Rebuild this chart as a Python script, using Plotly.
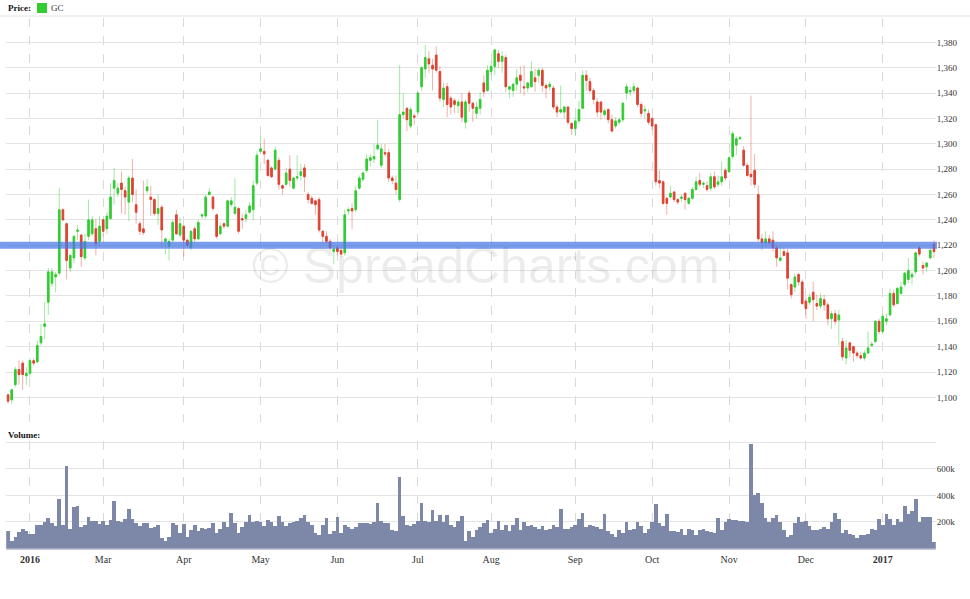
import pandas as pd
import plotly.graph_objects as go

# ---------------- data ----------------
holidays = ["2016-02-15", "2016-03-25", "2016-05-30", "2016-07-04", "2016-09-05",
            "2016-11-24", "2016-12-26", "2017-01-02", "2017-01-16"]
dates = [d.strftime("%Y-%m-%d") for d in
         pd.bdate_range("2016-01-22", "2017-01-24", freq="C", holidays=holidays)]

opens = [1102, 1098, 1110, 1122, 1127, 1117, 1119, 1129, 1128, 1143, 1156, 1175, 1190, 1195, 1198, 1248, 1237, 1202, 1210, 1231,
         1228, 1210, 1227, 1229, 1233, 1223, 1240, 1233, 1241, 1265, 1261, 1269, 1263, 1254, 1273, 1252, 1237, 1233, 1263, 1258,
         1256, 1245, 1250, 1223, 1219, 1224, 1244, 1228, 1235, 1224, 1218, 1233, 1225, 1243, 1243, 1260, 1258, 1244, 1229, 1237,
         1235, 1252, 1245, 1249, 1241, 1241, 1246, 1248, 1269, 1294, 1294, 1287, 1281, 1280, 1287, 1267, 1268, 1280, 1265, 1273,
         1275, 1281, 1260, 1257, 1255, 1256, 1231, 1227, 1223, 1215, 1218, 1216, 1214, 1247, 1249, 1248, 1265, 1272, 1279, 1287,
         1288, 1296, 1283, 1293, 1293, 1273, 1269, 1256, 1323, 1328, 1314, 1322, 1325, 1345, 1359, 1367, 1362, 1370, 1357, 1335,
         1345, 1336, 1334, 1330, 1333, 1317, 1340, 1332, 1324, 1328, 1348, 1342, 1357, 1361, 1371, 1365, 1368, 1343, 1342, 1347,
         1354, 1345, 1344, 1345, 1352, 1354, 1358, 1346, 1345, 1344, 1329, 1325, 1325, 1329, 1316, 1312, 1318, 1328, 1354, 1349,
         1342, 1333, 1333, 1323, 1327, 1319, 1314, 1317, 1319, 1340, 1341, 1342, 1344, 1331, 1326, 1324, 1320, 1315, 1271, 1270,
         1257, 1258, 1262, 1256, 1257, 1261, 1253, 1257, 1264, 1271, 1268, 1267, 1265, 1274, 1268, 1270, 1279, 1278, 1290, 1299,
         1304, 1295, 1283, 1276, 1279, 1260, 1225, 1222, 1225, 1224, 1218, 1208, 1215, 1214, 1189, 1187, 1197, 1191, 1176, 1175,
         1183, 1174, 1172, 1177, 1173, 1162, 1166, 1161, 1144, 1131, 1143, 1140, 1135, 1133, 1131, 1135, 1141, 1144, 1160, 1152,
         1160, 1165, 1182, 1174, 1182, 1189, 1193, 1195, 1199, 1218, 1204, 1203, 1210, 1221]
highs = [1103, 1107, 1124, 1129, 1129, 1124, 1131, 1131, 1145, 1158, 1175, 1202, 1202, 1199, 1265, 1249, 1238, 1213, 1228, 1236,
         1229, 1229, 1256, 1243, 1241, 1243, 1241, 1246, 1269, 1281, 1269, 1278, 1266, 1275, 1288, 1264, 1239, 1271, 1272, 1267,
         1257, 1260, 1252, 1226, 1225, 1240, 1248, 1242, 1236, 1225, 1232, 1235, 1240, 1245, 1260, 1265, 1259, 1245, 1238, 1238,
         1256, 1258, 1273, 1250, 1245, 1248, 1254, 1271, 1294, 1307, 1304, 1288, 1282, 1298, 1289, 1268, 1281, 1291, 1274, 1291,
         1284, 1284, 1262, 1259, 1256, 1258, 1232, 1231, 1225, 1220, 1220, 1219, 1248, 1250, 1253, 1267, 1275, 1278, 1292, 1292,
         1300, 1319, 1300, 1300, 1296, 1275, 1275, 1362, 1340, 1329, 1329, 1324, 1341, 1361, 1378, 1373, 1367, 1377, 1361, 1348,
         1348, 1338, 1336, 1335, 1340, 1335, 1342, 1333, 1333, 1341, 1354, 1362, 1365, 1375, 1374, 1373, 1370, 1346, 1348, 1359,
         1361, 1362, 1349, 1365, 1359, 1360, 1360, 1348, 1349, 1346, 1331, 1346, 1330, 1330, 1317, 1321, 1334, 1358, 1358, 1352,
         1344, 1336, 1333, 1328, 1328, 1323, 1321, 1320, 1333, 1348, 1345, 1348, 1345, 1333, 1330, 1327, 1321, 1316, 1279, 1271,
         1258, 1267, 1263, 1257, 1260, 1262, 1258, 1266, 1274, 1277, 1270, 1270, 1277, 1278, 1275, 1286, 1281, 1290, 1310, 1306,
         1306, 1298, 1285, 1338, 1292, 1267, 1229, 1231, 1228, 1231, 1220, 1220, 1219, 1217, 1190, 1198, 1198, 1193, 1179, 1182,
         1191, 1181, 1182, 1181, 1175, 1168, 1169, 1169, 1147, 1145, 1144, 1141, 1137, 1136, 1137, 1152, 1144, 1161, 1162, 1166,
         1166, 1186, 1185, 1187, 1191, 1199, 1210, 1199, 1215, 1219, 1207, 1207, 1220, 1224]
lows = [1095, 1095, 1108, 1110, 1106, 1110, 1116, 1125, 1127, 1141, 1146, 1165, 1187, 1183, 1196, 1239, 1193, 1199, 1206, 1224,
        1203, 1208, 1224, 1227, 1212, 1219, 1227, 1229, 1240, 1252, 1258, 1245, 1244, 1239, 1254, 1237, 1228, 1228, 1261, 1243,
        1243, 1236, 1218, 1213, 1208, 1222, 1228, 1226, 1211, 1218, 1216, 1222, 1224, 1241, 1241, 1259, 1247, 1225, 1228, 1233,
        1234, 1250, 1244, 1229, 1233, 1238, 1245, 1240, 1267, 1292, 1284, 1274, 1273, 1279, 1264, 1260, 1267, 1266, 1264, 1271,
        1271, 1262, 1253, 1252, 1244, 1230, 1221, 1221, 1216, 1205, 1212, 1211, 1212, 1244, 1233, 1246, 1264, 1270, 1277, 1282,
        1285, 1295, 1281, 1290, 1270, 1268, 1260, 1254, 1320, 1310, 1312, 1315, 1323, 1342, 1352, 1356, 1342, 1356, 1333, 1329,
        1321, 1323, 1324, 1324, 1317, 1312, 1325, 1317, 1320, 1323, 1337, 1341, 1354, 1354, 1360, 1356, 1341, 1336, 1337, 1342,
        1340, 1338, 1341, 1344, 1341, 1348, 1341, 1336, 1342, 1327, 1321, 1324, 1320, 1315, 1307, 1306, 1316, 1327, 1342, 1340,
        1331, 1321, 1319, 1321, 1316, 1309, 1312, 1315, 1317, 1335, 1338, 1340, 1329, 1321, 1320, 1315, 1311, 1267, 1265, 1252,
        1244, 1257, 1254, 1252, 1254, 1248, 1252, 1256, 1263, 1266, 1265, 1262, 1263, 1264, 1266, 1267, 1271, 1277, 1288, 1291,
        1303, 1282, 1274, 1267, 1265, 1223, 1216, 1218, 1220, 1215, 1203, 1207, 1211, 1185, 1178, 1183, 1188, 1173, 1162, 1173,
        1160, 1169, 1170, 1168, 1157, 1154, 1157, 1141, 1129, 1126, 1132, 1128, 1131, 1130, 1129, 1134, 1140, 1143, 1150, 1150,
        1157, 1164, 1171, 1173, 1181, 1187, 1190, 1189, 1197, 1211, 1197, 1199, 1209, 1210]
closes = [1097, 1106, 1122, 1118, 1118, 1119, 1129, 1127, 1141, 1148, 1158, 1199, 1199, 1197, 1248, 1240, 1208, 1212, 1227, 1232,
          1211, 1223, 1240, 1240, 1221, 1235, 1231, 1243, 1258, 1271, 1265, 1264, 1258, 1273, 1260, 1246, 1231, 1230, 1266, 1256,
          1245, 1249, 1232, 1225, 1223, 1238, 1229, 1237, 1224, 1220, 1231, 1225, 1238, 1244, 1258, 1262, 1249, 1227, 1235, 1235,
          1255, 1255, 1250, 1231, 1240, 1244, 1251, 1267, 1291, 1296, 1292, 1275, 1274, 1295, 1268, 1265, 1277, 1271, 1273, 1274,
          1278, 1274, 1256, 1253, 1252, 1232, 1227, 1223, 1218, 1217, 1215, 1213, 1244, 1248, 1247, 1263, 1273, 1277, 1288, 1289,
          1290, 1299, 1296, 1292, 1273, 1271, 1264, 1323, 1325, 1319, 1327, 1321, 1340, 1360, 1368, 1363, 1359, 1358, 1336, 1344,
          1331, 1329, 1331, 1333, 1321, 1333, 1332, 1328, 1329, 1335, 1341, 1358, 1361, 1374, 1365, 1369, 1345, 1345, 1347, 1352,
          1350, 1344, 1348, 1357, 1349, 1358, 1346, 1344, 1347, 1329, 1325, 1327, 1329, 1317, 1312, 1318, 1327, 1354, 1350, 1342,
          1335, 1325, 1325, 1326, 1319, 1310, 1318, 1319, 1332, 1345, 1342, 1345, 1331, 1324, 1327, 1317, 1314, 1270, 1269, 1253,
          1253, 1261, 1256, 1254, 1258, 1256, 1257, 1264, 1270, 1268, 1269, 1264, 1274, 1266, 1270, 1274, 1273, 1289, 1308, 1304,
          1305, 1283, 1275, 1274, 1268, 1225, 1222, 1225, 1222, 1218, 1210, 1210, 1212, 1194, 1181, 1195, 1191, 1174, 1170, 1179,
          1177, 1172, 1178, 1173, 1162, 1166, 1160, 1165, 1132, 1139, 1137, 1135, 1133, 1131, 1135, 1139, 1142, 1160, 1152, 1164,
          1162, 1182, 1173, 1186, 1187, 1198, 1200, 1197, 1214, 1213, 1202, 1206, 1216, 1215]

volume_k = [135, 60, 90, 125, 150, 130, 110, 110, 180, 175, 200, 230, 190, 170, 370, 175, 625, 150, 310, 320,
            160, 175, 240, 205, 210, 185, 210, 180, 215, 355, 210, 200, 220, 300, 225, 195, 170, 195, 195, 155,
            165, 175, 80, 60, 90, 190, 180, 120, 185, 90, 140, 180, 130, 155, 150, 155, 195, 120, 150, 200,
            165, 265, 190, 120, 160, 200, 250, 200, 210, 200, 170, 215, 200, 170, 245, 200, 170, 190, 200, 210,
            230, 250, 200, 175, 115, 100, 180, 230, 110, 130, 235, 120, 175, 160, 150, 165, 195, 190, 195, 185,
            200, 340, 210, 195, 190, 140, 135, 540, 245, 180, 170, 185, 210, 345, 210, 200, 290, 210, 250, 200,
            250, 180, 160, 210, 245, 60, 130, 90, 140, 160, 190, 215, 120, 150, 210, 140, 180, 130, 180, 230,
            140, 200, 170, 180, 165, 150, 170, 140, 150, 180, 160, 300, 145, 150, 160, 175, 220, 270, 160, 180,
            170, 165, 150, 260, 130, 110, 90, 140, 120, 200, 140, 150, 200, 170, 120, 150, 200, 335, 190, 170,
            260, 130, 130, 125, 150, 100, 145, 140, 100, 140, 150, 130, 125, 120, 230, 140, 200, 225, 215, 215,
            205, 210, 200, 790, 400, 420, 340, 230, 200, 230, 250, 200, 140, 90, 100, 190, 240, 200, 210, 170,
            140, 140, 150, 160, 150, 200, 270, 220, 120, 140, 110, 100, 80, 100, 100, 110, 150, 140, 220, 180,
            260, 220, 180, 220, 200, 320, 260, 280, 370, 200, 240, 240, 240, 50]

tick_dates = ["2016-02-01", "2016-03-01", "2016-04-01", "2016-05-02", "2016-06-01", "2016-07-01",
              "2016-08-01", "2016-09-01", "2016-10-03", "2016-11-01", "2016-12-01", "2017-01-03"]
tick_labels = ["<b>2016</b>", "Mar", "Apr", "May", "Jun", "Jul", "Aug", "Sep", "Oct", "Nov", "Dec", "<b>2017</b>"]

price_ticks = [1100, 1120, 1140, 1160, 1180, 1200, 1220, 1240, 1260, 1280, 1300, 1320, 1340, 1360, 1380]
vol_ticks = [200, 400, 600, 800]
vol_labels = ["200k", "400k", "600k", ""]
level = 1220

# ---------------- styling ----------------
W, H = 970, 599
GREEN = "#33cc33"
RED = "#dd4433"
SERIF = "Liberation Serif"

def px_x(p):
    return p / W

def px_y(p):
    return 1 - p / H

x_dom = [6.2 / W, 935.8 / W]

fig = go.Figure()

# wicks
gx, gy, rx, ry = [], [], [], []
for d, o, h, l, c in zip(dates, opens, highs, lows, closes):
    if c >= o:
        gx += [d, d, None]; gy += [l, h, None]
    else:
        rx += [d, d, None]; ry += [l, h, None]
fig.add_trace(go.Scatter(x=gx, y=gy, mode="lines", line=dict(color="rgba(51,204,51,0.45)", width=1),
                         hoverinfo="skip", showlegend=False, xaxis="x", yaxis="y"))
fig.add_trace(go.Scatter(x=rx, y=ry, mode="lines", line=dict(color="rgba(221,68,51,0.42)", width=1),
                         hoverinfo="skip", showlegend=False, xaxis="x", yaxis="y"))

# bodies
body_hi = [max(o, c) for o, c in zip(opens, closes)]
body_lo = [min(o, c) for o, c in zip(opens, closes)]
fig.add_trace(go.Candlestick(x=dates, open=opens, high=body_hi, low=body_lo, close=closes,
                             increasing=dict(fillcolor=GREEN, line=dict(color=GREEN, width=1)),
                             decreasing=dict(fillcolor=RED, line=dict(color=RED, width=1)),
                             whiskerwidth=0, showlegend=False, xaxis="x", yaxis="y", name="GC"))

# volume
fig.add_trace(go.Bar(x=dates, y=volume_k, marker=dict(color="#7d88a8", line=dict(width=0)),
                     showlegend=False, xaxis="x2", yaxis="y2"))

common_x = dict(type="category", domain=x_dom, tickvals=tick_dates, ticktext=tick_labels,
                showgrid=True, gridcolor="#d9d9d9", griddash="dash", gridwidth=1,
                zeroline=False, showline=False, ticks="", rangeslider=dict(visible=False),
                categoryorder="array", categoryarray=dates, fixedrange=True, automargin=False)

fig.update_layout(
    template="none",
    width=W, height=H, margin=dict(l=0, r=0, t=0, b=0, autoexpand=False),
    paper_bgcolor="white", plot_bgcolor="white",
    boxgap=0.35, bargap=0,
    showlegend=False,
    xaxis=dict(**common_x, anchor="y", showticklabels=False),
    xaxis2=dict(**common_x, anchor="y2", matches="x", showticklabels=True, ticklabelstandoff=3,
                tickfont=dict(family=SERIF, size=10, color="#333")),
    yaxis=dict(domain=[px_y(422), px_y(18)], range=[1080.6, 1399.2], side="right",
               tickvals=price_ticks, tickformat=",", showgrid=True, gridcolor="#e3e3e3", gridwidth=1,
               zeroline=False, ticks="", automargin=False, showline=False, fixedrange=True,
               tickfont=dict(family=SERIF, size=9, color="#333")),
    yaxis2=dict(domain=[px_y(548.5), px_y(441)], range=[0, 811], side="right",
                tickvals=vol_ticks, ticktext=vol_labels, showgrid=True, gridcolor="#e3e3e3", gridwidth=1,
                zeroline=False, ticks="", automargin=False, showline=False, fixedrange=True,
                tickfont=dict(family=SERIF, size=9, color="#333")),
    shapes=[
        dict(type="line", xref="paper", yref="paper", x0=0, x1=1, y0=px_y(16), y1=px_y(16),
             line=dict(color="#e2e2e2", width=1)),
        dict(type="rect", xref="paper", yref="paper", x0=px_x(37), x1=px_x(47), y0=px_y(13), y1=px_y(3),
             fillcolor=GREEN, line=dict(width=0)),
        dict(type="line", xref="paper", yref="y", x0=0, x1=px_x(937), y0=level, y1=level,
             line=dict(color="rgba(70,118,230,0.72)", width=7), layer="above"),
        dict(type="line", xref="paper", yref="paper", x0=x_dom[0], x1=x_dom[1], y0=px_y(549), y1=px_y(549),
             line=dict(color="#8a92ad", width=1)),
    ],
    annotations=[
        dict(text="<b>Price:</b>", xref="paper", yref="paper", x=px_x(6), y=px_y(8), xanchor="left",
             yanchor="middle", showarrow=False, font=dict(family=SERIF, size=9, color="#111")),
        dict(text="GC", xref="paper", yref="paper", x=px_x(49), y=px_y(8), xanchor="left",
             yanchor="middle", showarrow=False, font=dict(family=SERIF, size=9, color="#333")),
        dict(text="<b>Volume:</b>", xref="paper", yref="paper", x=px_x(6), y=px_y(435), xanchor="left",
             yanchor="middle", showarrow=False, font=dict(family=SERIF, size=9, color="#111")),
        dict(text="© SpreadCharts.com", xref="paper", yref="paper", x=px_x(486), y=px_y(266),
             xanchor="center", yanchor="middle", showarrow=False,
             font=dict(family="Liberation Sans", size=50, color="rgba(0,0,0,0.075)")),
    ],
)

fig.write_html("out.html", config={"displayModeBar": False, "staticPlot": True},
               post_script="document.body.style.margin='0';document.body.style.overflow='hidden';")
